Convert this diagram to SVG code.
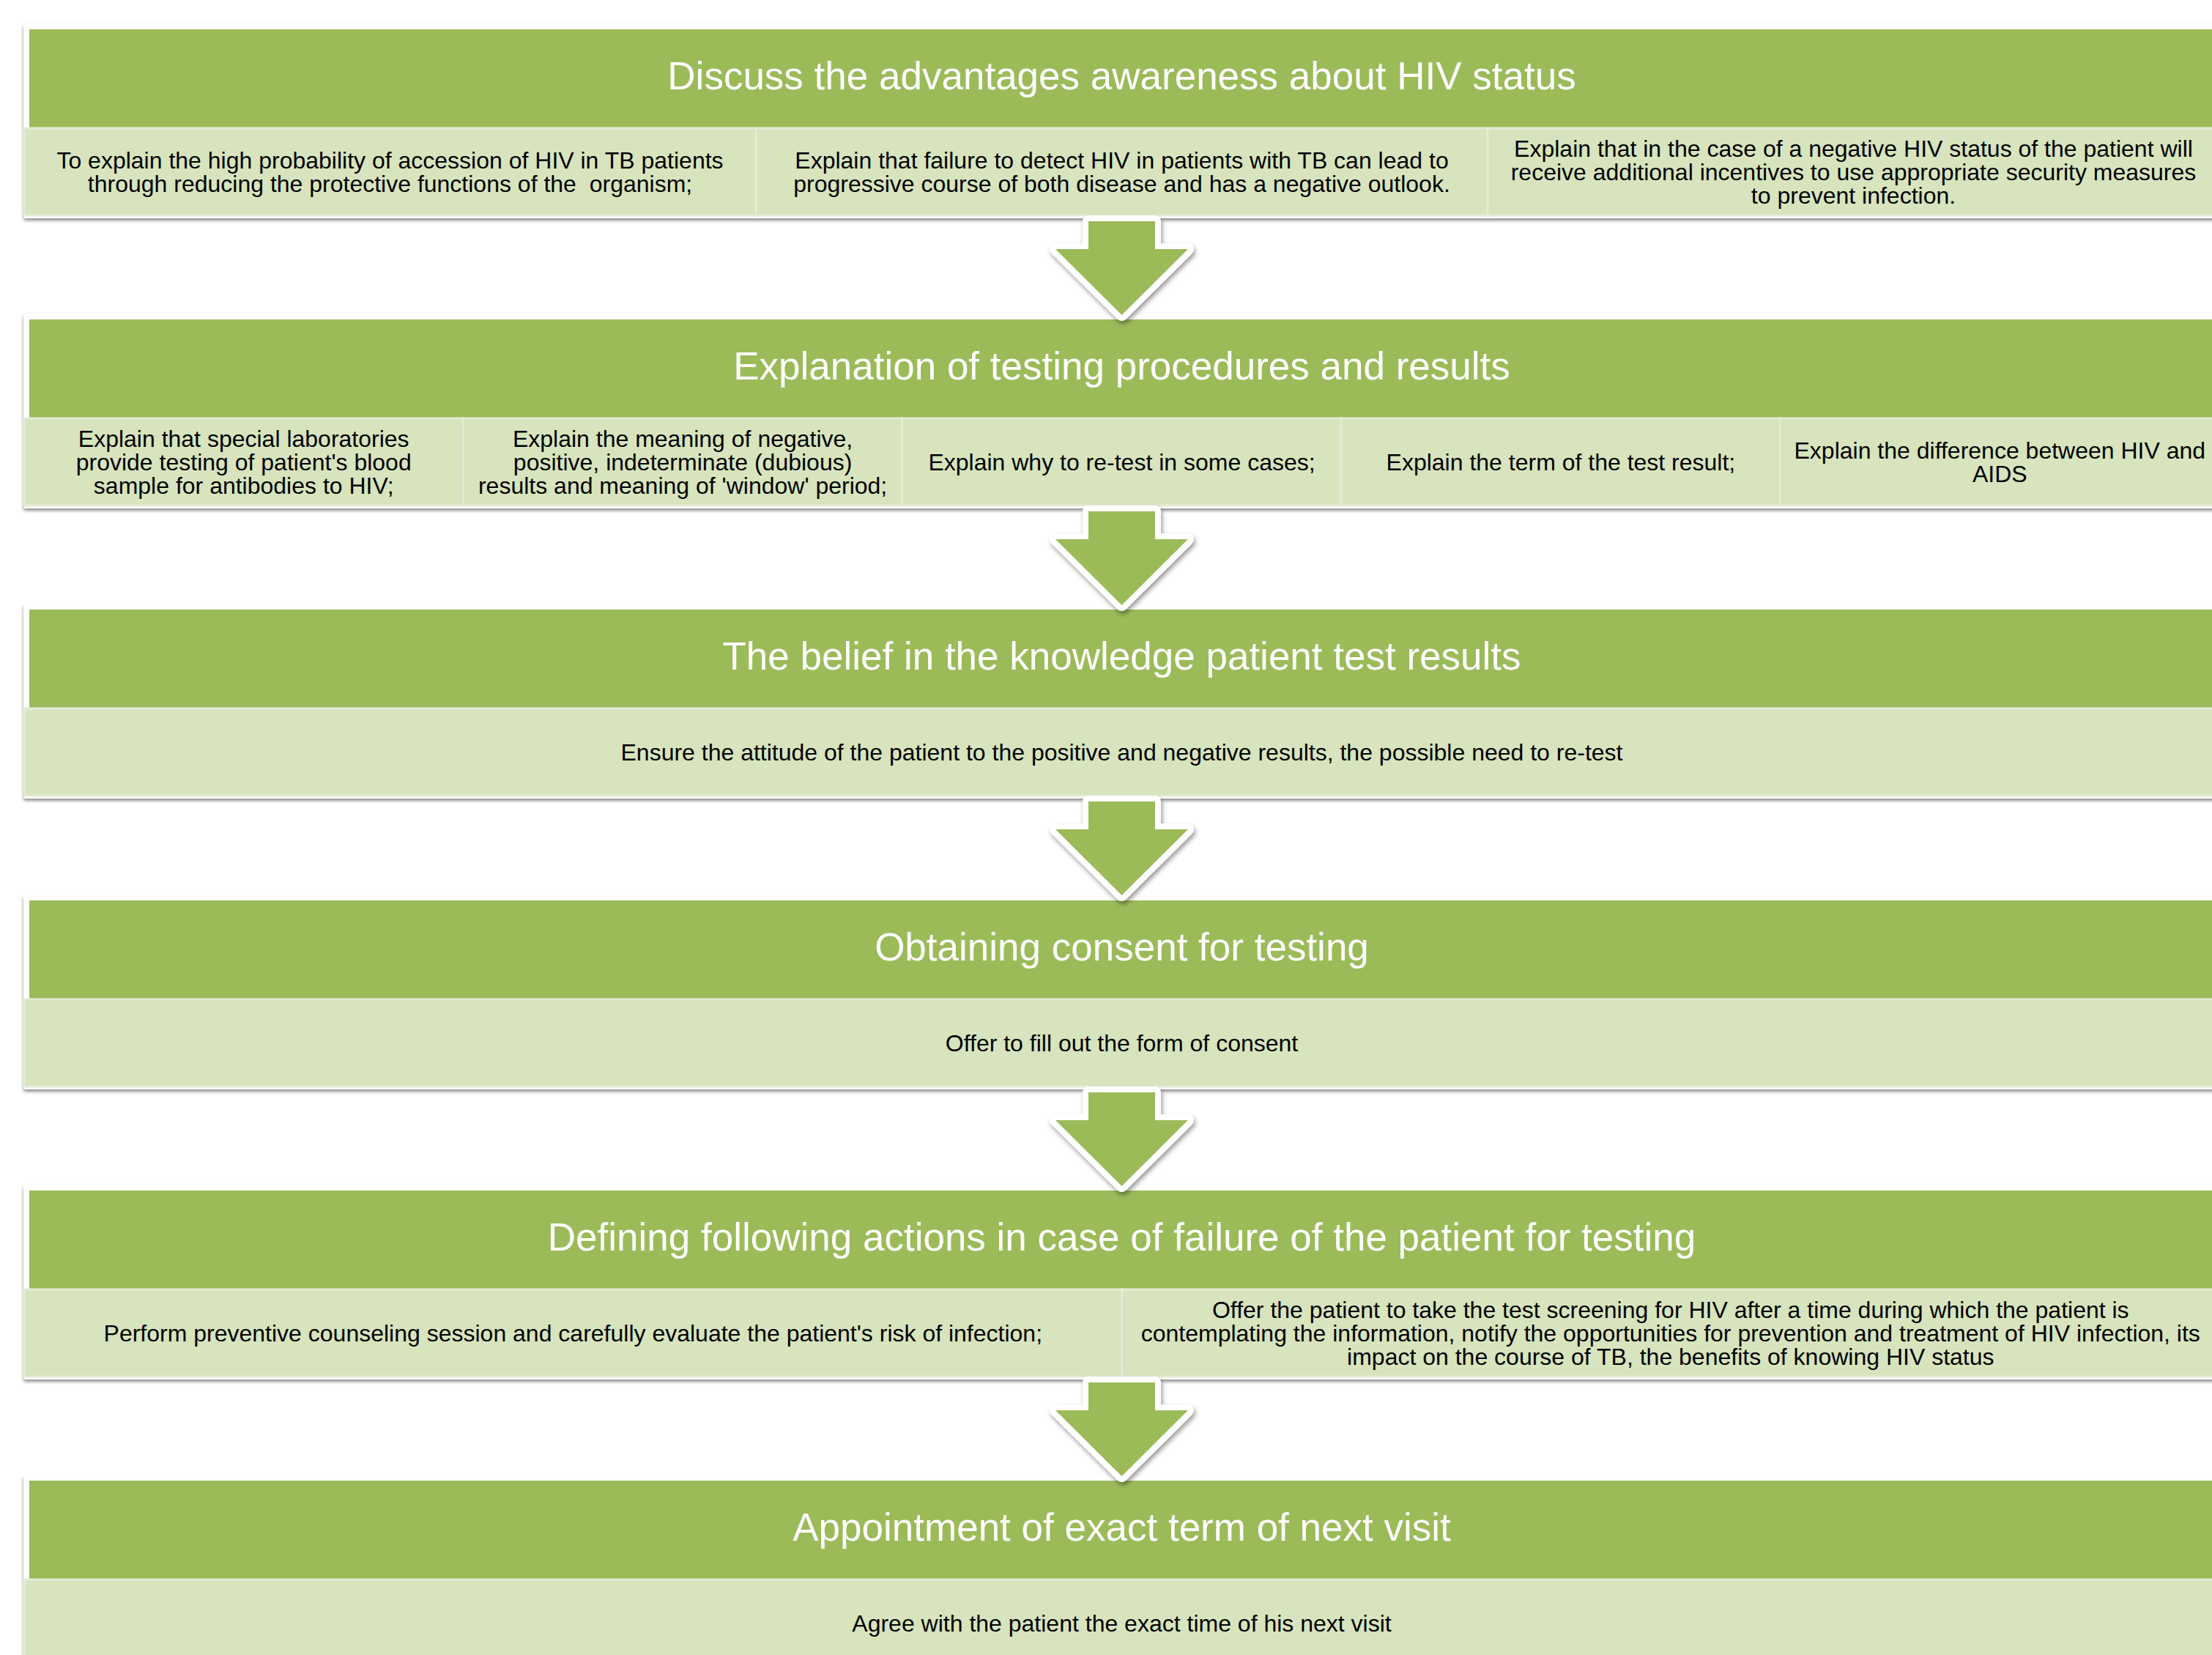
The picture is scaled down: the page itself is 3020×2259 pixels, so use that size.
<svg xmlns="http://www.w3.org/2000/svg" width="3020" height="2259" viewBox="0 0 3020 2259">
<defs>
<filter id="sh" x="-2%" y="-10%" width="104%" height="125%">
<feDropShadow dx="0" dy="3" stdDeviation="2" flood-color="#000" flood-opacity="0.45"/>
</filter>
<filter id="ash" x="-20%" y="-20%" width="140%" height="140%">
<feDropShadow dx="2" dy="4" stdDeviation="3" flood-color="#000" flood-opacity="0.4"/>
</filter>
<style>
.frame{fill:#ffffff;filter:url(#sh)}
.hdr{fill:#9BBB59}
.cell{fill:#D7E4BD;stroke:#E4EBD6;stroke-width:3}
.title{font-family:"Liberation Sans",Arial,sans-serif;font-size:53px;fill:#ffffff;text-anchor:middle}
.txt{font-family:"Liberation Sans",Arial,sans-serif;font-size:32px;fill:#000000;text-anchor:middle}
.arrow{fill:#9BBB59;stroke:#ffffff;stroke-width:16;stroke-linejoin:round;paint-order:stroke;filter:url(#ash)}
</style>
</defs>
<rect x="0" y="0" width="3020" height="2259" fill="#ffffff"/>

<g id="block1">
<rect class="frame" x="32" y="32" width="3010" height="266" rx="4"/>
<rect class="hdr" x="40" y="40" width="2990" height="134"/>
<rect class="cell" x="33" y="175" width="999" height="119"/>
<rect class="cell" x="1032" y="175" width="999" height="119"/>
<rect class="cell" x="2031" y="175" width="999" height="119"/>
<text class="title" x="1531.5" y="122">Discuss the advantages awareness about HIV status</text>
<text class="txt" x="532.5" y="230" xml:space="preserve"><tspan x="532.5" y="230">To explain the high probability of accession of HIV in TB patients</tspan><tspan x="532.5" y="262">through reducing the protective functions of the  organism;</tspan></text>
<text class="txt" x="1531.5" y="230"><tspan x="1531.5" y="230">Explain that failure to detect HIV in patients with TB can lead to</tspan><tspan x="1531.5" y="262">progressive course of both disease and has a negative outlook.</tspan></text>
<text class="txt" x="2530.5" y="214"><tspan x="2530.5" y="214">Explain that in the case of a negative HIV status of the patient will</tspan><tspan x="2530.5" y="246">receive additional incentives to use appropriate security measures</tspan><tspan x="2530.5" y="278">to prevent infection.</tspan></text>
</g>

<g id="block2">
<rect class="frame" x="32" y="428" width="3010" height="266" rx="4"/>
<rect class="hdr" x="40" y="436" width="2990" height="134"/>
<rect class="cell" x="33" y="571" width="599.4" height="119"/>
<rect class="cell" x="632.4" y="571" width="599.4" height="119"/>
<rect class="cell" x="1231.8" y="571" width="599.4" height="119"/>
<rect class="cell" x="1831.2" y="571" width="599.4" height="119"/>
<rect class="cell" x="2430.6" y="571" width="599.4" height="119"/>
<text class="title" x="1531.5" y="518">Explanation of testing procedures and results</text>
<text class="txt" x="332.7" y="610"><tspan x="332.7" y="610">Explain that special laboratories</tspan><tspan x="332.7" y="642">provide testing of patient's blood</tspan><tspan x="332.7" y="674">sample for antibodies to HIV;</tspan></text>
<text class="txt" x="932.1" y="610"><tspan x="932.1" y="610">Explain the meaning of negative,</tspan><tspan x="932.1" y="642">positive, indeterminate (dubious)</tspan><tspan x="932.1" y="674">results and meaning of 'window' period;</tspan></text>
<text class="txt" x="1531.5" y="642">Explain why to re-test in some cases;</text>
<text class="txt" x="2130.9" y="642">Explain the term of the test result;</text>
<text class="txt" x="2730.3" y="626"><tspan x="2730.3" y="626">Explain the difference between HIV and</tspan><tspan x="2730.3" y="658">AIDS</tspan></text>
</g>

<g id="block3">
<rect class="frame" x="32" y="824" width="3010" height="266" rx="4"/>
<rect class="hdr" x="40" y="832" width="2990" height="134"/>
<rect class="cell" x="33" y="967" width="2997" height="119"/>
<text class="title" x="1531.5" y="914">The belief in the knowledge patient test results</text>
<text class="txt" x="1531.5" y="1038">Ensure the attitude of the patient to the positive and negative results, the possible need to re-test</text>
</g>

<g id="block4">
<rect class="frame" x="32" y="1221" width="3010" height="266" rx="4"/>
<rect class="hdr" x="40" y="1229" width="2990" height="134"/>
<rect class="cell" x="33" y="1364" width="2997" height="119"/>
<text class="title" x="1531.5" y="1311">Obtaining consent for testing</text>
<text class="txt" x="1531.5" y="1435">Offer to fill out the form of consent</text>
</g>

<g id="block5">
<rect class="frame" x="32" y="1617" width="3010" height="266" rx="4"/>
<rect class="hdr" x="40" y="1625" width="2990" height="134"/>
<rect class="cell" x="33" y="1760" width="1498.5" height="119"/>
<rect class="cell" x="1531.5" y="1760" width="1498.5" height="119"/>
<text class="title" x="1531.5" y="1707">Defining following actions in case of failure of the patient for testing</text>
<text class="txt" x="782.3" y="1831">Perform preventive counseling session and carefully evaluate the patient's risk of infection;</text>
<text class="txt" x="2280.8" y="1799"><tspan x="2280.8" y="1799">Offer the patient to take the test screening for HIV after a time during which the patient is</tspan><tspan x="2280.8" y="1831">contemplating the information, notify the opportunities for prevention and treatment of HIV infection, its</tspan><tspan x="2280.8" y="1863">impact on the course of TB, the benefits of knowing HIV status</tspan></text>
</g>

<g id="block6">
<rect class="frame" x="32" y="2013" width="3010" height="266" rx="4"/>
<rect class="hdr" x="40" y="2021" width="2990" height="134"/>
<rect class="cell" x="33" y="2156" width="2997" height="119"/>
<text class="title" x="1531.5" y="2103">Appointment of exact term of next visit</text>
<text class="txt" x="1531.5" y="2227">Agree with the patient the exact time of his next visit</text>
</g>

<g id="connectors">
<polygon class="arrow" points="1486,302 1577,302 1577,340 1622,340 1531.5,430 1441,340 1486,340"/>
<polygon class="arrow" points="1486,698 1577,698 1577,736 1622,736 1531.5,826 1441,736 1486,736"/>
<polygon class="arrow" points="1486,1094 1577,1094 1577,1132 1622,1132 1531.5,1222 1441,1132 1486,1132"/>
<polygon class="arrow" points="1486,1491 1577,1491 1577,1529 1622,1529 1531.5,1619 1441,1529 1486,1529"/>
<polygon class="arrow" points="1486,1887 1577,1887 1577,1925 1622,1925 1531.5,2015 1441,1925 1486,1925"/>
</g>
</svg>
